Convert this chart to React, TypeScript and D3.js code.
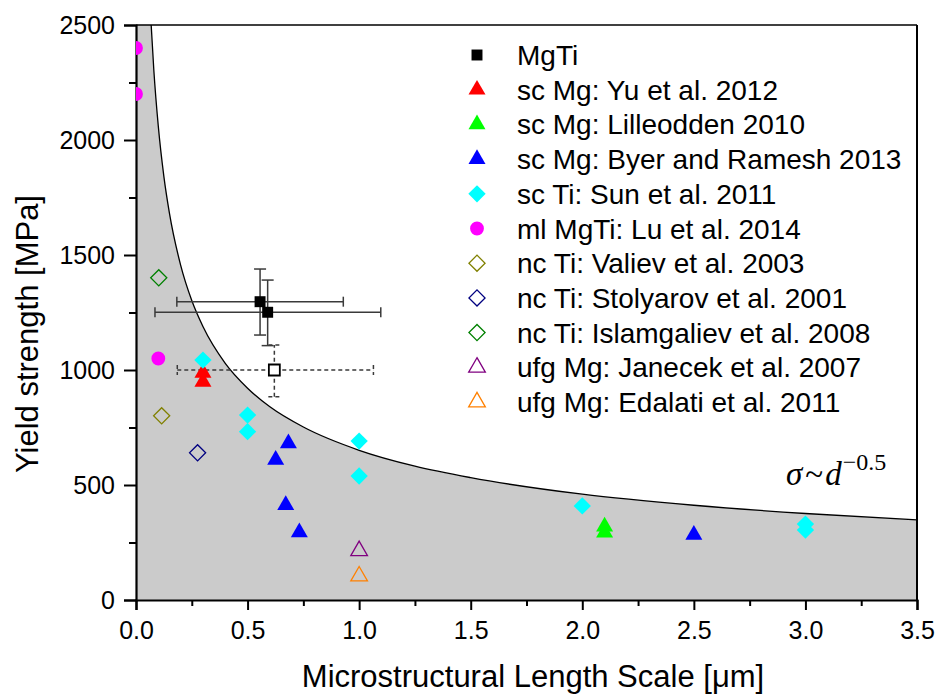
import React, { useEffect, useRef } from "react";
import * as d3 from "d3";

const W = 938;
const H = 695;
const margin = { top: 25, right: 21, bottom: 95, left: 136 };

// guide curve sigma ~ d^-0.5
const curveX = [0.068, 0.08, 0.1, 0.125, 0.15, 0.2, 0.25, 0.3, 0.4, 0.5, 0.6, 0.75, 1.0, 1.25, 1.5, 2.0, 2.5, 3.0, 3.5];
const curveY = [2500, 2302, 2059, 1841, 1681, 1456, 1302, 1189, 1029, 921, 840, 752, 651, 582, 532, 460, 412, 376, 348];

// MgTi with error bars
const mgtiX = [0.556, 0.59];
const mgtiY = [1297, 1251];
const mgtiXLo = [0.183, 0.085];
const mgtiXHi = [0.929, 1.097];
const mgtiYLo = [1152, 1106];
const mgtiYHi = [1439, 1391];

// open MgTi point with dashed error bars
const mgtiOpenX = [0.62];
const mgtiOpenY = [1000];
const mgtiOpenXLo = [0.185];
const mgtiOpenXHi = [1.064];
const mgtiOpenYLo = [884];
const mgtiOpenYHi = [1109];

const yuX = [0.3, 0.3];
const yuY = [988, 949];
const lilleoddenX = [2.1, 2.1];
const lilleoddenY = [319, 293];
const byerX = [0.683, 0.626, 0.671, 0.732, 2.5];
const byerY = [681, 609, 413, 294, 283];
const sunX = [0.3, 0.5, 0.5, 1.0, 1.0, 2.0, 3.0, 3.0];
const sunY = [1043, 804, 732, 691, 539, 409, 330, 304];
const luX = [0, 0, 0.1];
const luY = [2400, 2200, 1050];
const valievX = [0.115];
const valievY = [801];
const stolyarovX = [0.276];
const stolyarovY = [640];
const islamX = [0.102];
const islamY = [1401];
const janecekX = [1.0];
const janecekY = [214];
const edalatiX = [1.0];
const edalatiY = [104];

const series = [
  { name: "MgTi", x: mgtiX, y: mgtiY, shape: "square", color: "#000000", filled: true },
  { name: "sc Mg: Yu et al. 2012", x: yuX, y: yuY, shape: "triangle", color: "#ff0000", filled: true },
  { name: "sc Mg: Lilleodden 2010", x: lilleoddenX, y: lilleoddenY, shape: "triangle", color: "#00ff00", filled: true },
  { name: "sc Mg: Byer and Ramesh 2013", x: byerX, y: byerY, shape: "triangle", color: "#0000ff", filled: true },
  { name: "sc Ti: Sun et al. 2011", x: sunX, y: sunY, shape: "diamond", color: "#00ffff", filled: true },
  { name: "ml MgTi: Lu et al. 2014", x: luX, y: luY, shape: "circle", color: "#ff00ff", filled: true },
  { name: "nc Ti: Valiev et al. 2003", x: valievX, y: valievY, shape: "diamond", color: "#808000", filled: false },
  { name: "nc Ti: Stolyarov et al. 2001", x: stolyarovX, y: stolyarovY, shape: "diamond", color: "#000080", filled: false },
  { name: "nc Ti: Islamgaliev et al. 2008", x: islamX, y: islamY, shape: "diamond", color: "#008000", filled: false },
  { name: "ufg Mg: Janecek et al. 2007", x: janecekX, y: janecekY, shape: "triangle", color: "#800080", filled: false },
  { name: "ufg Mg: Edalati et al. 2011", x: edalatiX, y: edalatiY, shape: "triangle", color: "#ff8000", filled: false },
];

function symbolPath(shape: string, filled: boolean) {
  if (shape === "square") return d3.symbol(d3.symbolSquare, 120)();
  if (shape === "diamond") return d3.symbol(d3.symbolSquare, filled ? 150 : 130)();
  if (shape === "circle") return d3.symbol(d3.symbolCircle, 150)();
  return d3.symbol(d3.symbolTriangle, filled ? 125 : 120)();
}

export default function App() {
  const ref = useRef<SVGSVGElement>(null);

  useEffect(() => {
    const w = W - margin.left - margin.right;
    const h = H - margin.top - margin.bottom;
    const svg = d3.select(ref.current);
    svg.selectAll("*").remove();

    const x = d3.scaleLinear().domain([0, 3.5]).range([0, w]);
    const y = d3.scaleLinear().domain([0, 2500]).range([h, 0]);

    const g = svg.append("g").attr("transform", `translate(${margin.left},${margin.top})`);

    g.append("clipPath").attr("id", "plotclip")
      .append("rect").attr("width", w).attr("height", h);

    // gray under the curve, white above it
    g.append("rect").attr("width", w).attr("height", h).attr("fill", "#cbcbcb");
    const pts = curveX.map((d, i) => [d, curveY[i]]);
    const area = d3.area<number[]>()
      .x(d => x(d[0]))
      .y0(0)
      .y1(d => y(d[1]))
      .curve(d3.curveMonotoneX);
    g.append("path").datum(pts).attr("d", area).attr("fill", "#ffffff");
    const line = d3.line<number[]>()
      .x(d => x(d[0]))
      .y(d => y(d[1]))
      .curve(d3.curveMonotoneX);
    g.append("path").datum(pts).attr("d", line)
      .attr("fill", "none").attr("stroke", "#000").attr("stroke-width", 1.3);

    // frame top/right
    g.append("line").attr("x1", 0).attr("x2", w).attr("y1", 0).attr("y2", 0)
      .attr("stroke", "#000").attr("stroke-width", 1.5);
    g.append("line").attr("x1", w).attr("x2", w).attr("y1", 0).attr("y2", h)
      .attr("stroke", "#000").attr("stroke-width", 2);

    // axes
    const font = "'Liberation Sans', Arial, sans-serif";
    const yAxis = g.append("g")
      .call(d3.axisLeft(y).tickValues(d3.range(0, 2501, 500)).tickFormat(d3.format("d")).tickSize(12).tickPadding(9));
    g.append("g")
      .call(d3.axisLeft(y).tickValues(d3.range(250, 2500, 500)).tickFormat(() => "").tickSize(7))
      .call(a => a.select(".domain").remove());
    const xAxis = g.append("g").attr("transform", `translate(0,${h})`)
      .call(d3.axisBottom(x).tickValues(d3.range(0, 3.51, 0.5)).tickFormat(d3.format(".1f")).tickSize(10).tickPadding(11));
    g.append("g").attr("transform", `translate(0,${h})`)
      .call(d3.axisBottom(x).tickValues(d3.range(0.25, 3.5, 0.5)).tickFormat(() => "").tickSize(6))
      .call(a => a.select(".domain").remove());
    g.selectAll(".domain").attr("stroke-width", 2.2);
    g.selectAll(".tick line").attr("stroke-width", 2);
    [yAxis, xAxis].forEach(a => a.selectAll("text")
      .attr("font-family", font).attr("font-size", 25).attr("fill", "#000"));

    const plot = g.append("g").attr("clip-path", "url(#plotclip)");

    // error bars
    const errBars = (xs: number[], ys: number[], xl: number[], xh: number[], yl: number[], yh: number[], dash: string | null) => {
      xs.forEach((d, i) => {
        const eg = plot.append("g").attr("stroke", "#3a3a3a").attr("stroke-width", 1.5);
        if (dash) eg.attr("stroke-dasharray", dash);
        const cx = x(d), cy = y(ys[i]);
        eg.append("line").attr("x1", x(xl[i])).attr("x2", x(xh[i])).attr("y1", cy).attr("y2", cy);
        eg.append("line").attr("x1", cx).attr("x2", cx).attr("y1", y(yl[i])).attr("y2", y(yh[i]));
        [xl[i], xh[i]].forEach(v => eg.append("line")
          .attr("x1", x(v)).attr("x2", x(v)).attr("y1", cy - 5).attr("y2", cy + 5));
        [yl[i], yh[i]].forEach(v => eg.append("line")
          .attr("x1", cx - 6).attr("x2", cx + 6).attr("y1", y(v)).attr("y2", y(v)));
      });
    };
    errBars(mgtiOpenX, mgtiOpenY, mgtiOpenXLo, mgtiOpenXHi, mgtiOpenYLo, mgtiOpenYHi, "4,3");
    errBars(mgtiX, mgtiY, mgtiXLo, mgtiXHi, mgtiYLo, mgtiYHi, null);

    plot.selectAll(".open-sq").data(mgtiOpenX).join("path")
      .attr("d", symbolPath("square", false))
      .attr("transform", (d, i) => `translate(${x(d)},${y(mgtiOpenY[i])})`)
      .attr("fill", "#fff").attr("stroke", "#000").attr("stroke-width", 1.8);

    const drawMarker = (sel: any, s: any) => {
      sel.attr("d", symbolPath(s.shape, s.filled))
        .attr("fill", s.filled ? s.color : "none")
        .attr("stroke", s.filled ? "none" : s.color)
        .attr("stroke-width", 1.3);
    };

    series.forEach(s => {
      const rot = s.shape === "diamond" ? " rotate(45)" : "";
      plot.append("g").selectAll("path").data(s.x).join("path")
        .call(sel => drawMarker(sel, s))
        .attr("transform", (d, i) => `translate(${x(d)},${y(s.y[i])})${rot}`);
    });

    // legend
    const leg = svg.append("g");
    series.forEach((s, i) => {
      const ly = 55 + i * 34.7;
      const rot = s.shape === "diamond" ? " rotate(45)" : "";
      leg.append("path").call(sel => drawMarker(sel, s))
        .attr("transform", `translate(477,${ly})${rot}`);
      leg.append("text").attr("x", 517).attr("y", ly).attr("dy", "0.36em")
        .attr("font-family", font).attr("font-size", 28).attr("fill", "#000")
        .text(s.name);
    });

    // sigma ~ d^-0.5 label
    const lab = svg.append("text").attr("x", 786).attr("y", 485)
      .attr("font-family", "'Liberation Serif', 'DejaVu Serif', serif")
      .attr("font-size", 33).attr("fill", "#000");
    lab.append("tspan").attr("font-style", "italic").text("σ");
    lab.append("tspan").attr("dx", 3).text("~");
    lab.append("tspan").attr("dx", 2).attr("font-style", "italic").text("d");
    lab.append("tspan").attr("dx", 1).attr("dy", -15).attr("font-size", 24).text("−0.5");

    // axis titles
    svg.append("text").attr("x", 533).attr("y", 687).attr("text-anchor", "middle")
      .attr("font-family", font).attr("font-size", 31).attr("fill", "#000")
      .text("Microstructural Length Scale [μm]");
    svg.append("text").attr("transform", "translate(38,334) rotate(-90)").attr("text-anchor", "middle")
      .attr("font-family", font).attr("font-size", 31).attr("fill", "#000")
      .text("Yield strength [MPa]");
  }, []);

  return (
    <svg ref={ref} width={W} height={H}
      style={{ position: "absolute", left: 0, top: 0, background: "#fff" }} />
  );
}
